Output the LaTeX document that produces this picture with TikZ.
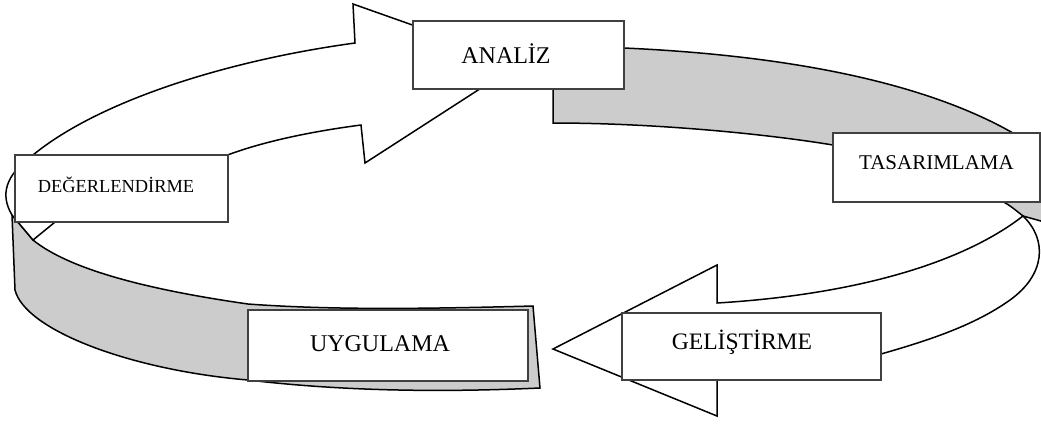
\documentclass[tikz,border=0pt]{standalone}
\usepackage{fontspec}
\setmainfont{Liberation Serif}
\begin{document}
\begin{tikzpicture}[x=0.5pt,y=-0.5pt,
  rib/.style={draw=black, line width=0.75pt, line join=miter},
  back/.style={rib, fill=black!20},
  front/.style={rib, fill=white},
  box/.style={draw=black!75, line width=1pt, fill=white, inner sep=0pt},
  lbl/.style={font=\fontsize{#1}{#1}\selectfont, inner sep=0pt}]
\useasboundingbox (0,0) rectangle (1041,425);
\clip (0,0) rectangle (1041,425);
% grey band, top right (ANALIZ -> TASARIMLAMA)
\draw[back] (553,80) -- (553,123) .. controls (650,123) and (760,133) .. (833,145)
  -- (995,198) .. controls (1008,204) .. (1023,216) -- (1048,223) -- (1048,140)
  -- (1013,133) .. controls (920,80) and (780,55) .. (624,48) -- (600,48) -- cycle;
% grey band, bottom left (DEGERLENDIRME -> UYGULAMA)
\draw[back] (12,215) -- (15,290) .. controls (25,330) and (130,370) .. (248,380)
  .. controls (350,392) and (450,392) .. (540,388) -- (533,306)
  .. controls (420,309) and (330,310) .. (248,304)
  .. controls (150,290) and (70,270) .. (33,240) -- cycle;
% white arrow, right (TASARIMLAMA -> GELISTIRME -> UYGULAMA)
\draw[front] (553,349) -- (717,265) -- (717,303)
  .. controls (850,295) and (960,265) .. (1023,216)
  .. controls (1048,240) and (1045,275) .. (1010,300)
  .. controls (975,325) and (930,340) .. (881,354)
  -- (760,375) -- (717,375) -- (717,416) -- cycle;
% white arrow, left (DEGERLENDIRME -> ANALIZ)
\draw[front] (12,215) .. controls (0,195) and (5,175) .. (33,155)
  .. controls (100,100) and (230,60) .. (355,43) -- (353,4) -- (520,63)
  -- (365,163) -- (361,125) .. controls (300,133) and (250,145) .. (215,160)
  -- (60,218) -- (33,240) -- cycle;
% boxes
\node[box, minimum width=105.5pt, minimum height=34pt,
  label={[lbl=12, xshift=-6.25pt, yshift=0.5pt]center:ANALİZ}] (analiz) at (518.5,55) {};
\node[box, minimum width=103.5pt, minimum height=34.5pt,
  label={[lbl=10.5, yshift=2.25pt]center:TASARIMLAMA}] (tasarim) at (936.5,167.5) {};
\node[box, minimum width=106.5pt, minimum height=33.5pt,
  label={[lbl=9.2, xshift=-2.75pt, yshift=1.75pt]center:DEĞERLENDİRME}] (deger) at (121.5,188.5) {};
\node[box, minimum width=140pt, minimum height=35.5pt,
  label={[lbl=12, xshift=-4pt, yshift=0.75pt]center:UYGULAMA}] (uygulama) at (388,345.5) {};
\node[box, minimum width=129.5pt, minimum height=33.5pt,
  label={[lbl=11.8, xshift=-4.75pt, yshift=2.25pt]center:GELİŞTİRME}] (gelistir) at (751.5,346.5) {};
\end{tikzpicture}
\end{document}
